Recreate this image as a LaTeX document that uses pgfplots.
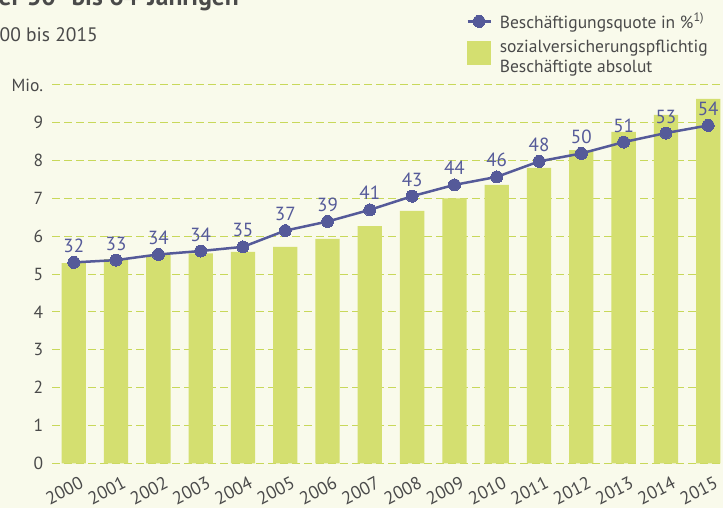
\documentclass[border=0pt]{standalone}
\usepackage{pgfplots}
\pgfplotsset{compat=1.18}
\usepackage{pgfplotstable}
\usepackage{fontspec}
\setmainfont{PT Sans}
\definecolor{bgcol}{HTML}{F9FAEB}
\definecolor{barcol}{HTML}{D4DF70}
\definecolor{linecol}{HTML}{555A99}
\definecolor{textcol}{HTML}{4A4A4A}
\definecolor{gridcol}{HTML}{C8D85A}
\pgfplotsset{
 mylegline/.style={legend image code/.code={\draw[mark repeat=2,mark phase=2,##1] plot coordinates {(0pt,0pt) (11.5pt,0pt) (23pt,0pt)};}},
 mylegbox/.style={legend image code/.code={\fill[barcol] (0pt,-8pt) rectangle (23pt,15pt);}},
}

\pgfplotstableread{
x val
0 5.29
1 5.40
2 5.51
3 5.55
4 5.59
5 5.72
6 5.93
7 6.27
8 6.67
9 7.00
10 7.36
11 7.81
12 8.28
13 8.76
14 9.21
15 9.63
}\barsdata

\pgfplotstableread{
x pct lab
0 31.99 32
1 32.36 33
2 33.27 34
3 33.82 34
4 34.49 35
5 37.10 37
6 38.56 39
7 40.44 41
8 42.63 43
9 44.45 44
10 45.73 46
11 48.22 48
12 49.50 50
13 51.32 51
14 52.78 53
15 54.00 54
}\quotedata

\begin{document}
\begin{tikzpicture}
\useasboundingbox (0pt,0pt) rectangle (723pt,508pt);
\fill[bgcol] (0pt,0pt) rectangle (723pt,508pt);
\begin{scope}
\clip (0pt,0pt) rectangle (723pt,508pt);
\node[anchor=base east, inner sep=0pt, text=textcol, font=\fontsize{25.5}{30}\selectfont\bfseries] at (239pt,502pt) {der 50- bis 64-Jährigen};
\node[anchor=base east, inner sep=0pt, text=textcol, font=\fontsize{19.5}{23}\selectfont] at (98pt,466.3pt) {2000 bis 2015};
\end{scope}
\begin{axis}[
 at={(52.3pt,44.7pt)}, anchor=south west,
 scale only axis, width=670.7pt, height=378.3pt,
 xmin=-0.508, xmax=15.35, ymin=0, ymax=10,
 axis line style={draw=none}, tick style={draw=none},
 ymajorgrids, grid style={gridcol, line width=1pt, dash pattern=on 7.5pt off 4.5pt},
 xtick={0,1,2,3,4,5,6,7,8,9,10,11,12,13,14,15},
 xticklabels={2000,2001,2002,2003,2004,2005,2006,2007,2008,2009,2010,2011,2012,2013,2014,2015},
 ytick={0,1,2,3,4,5,6,7,8,9,10},
 yticklabels={0,1,2,3,4,5,6,7,8,9,Mio.},
 ticklabel style={text=textcol},
 yticklabel style={anchor=east, inner sep=0pt, xshift=-9pt, font=\fontsize{17.5}{20}\selectfont},
 xticklabel style={rotate=27, anchor=north east, inner sep=0pt, xshift=1pt, yshift=-9.5pt, font=\fontsize{18}{20}\selectfont},
 ybar, bar width=24.3pt,
 clip=false,
]
\addplot[fill=barcol, draw=none] table[x=x,y=val] {\barsdata};
\end{axis}
\begin{axis}[
 at={(52.3pt,44.7pt)}, anchor=south west,
 scale only axis, width=670.7pt, height=378.3pt,
 xmin=-0.508, xmax=15.35, ymin=-0.29, ymax=60.5,
 hide axis, clip=false,
 legend style={at={(0.617,1.1957)}, anchor=north west, draw=none, fill=none,
   font=\fontsize{17.5}{20}\selectfont, text=textcol, cells={align=left},
   inner sep=0pt, row sep=6pt, column sep=6pt},
 legend cell align=left,
]
\addplot[linecol, line width=2.5pt, mark=*, mark size=6pt,
 mark options={solid, fill=linecol, draw=linecol, line width=0pt},
 point meta=explicit symbolic, nodes near coords,
 nodes near coords style={anchor=base, yshift=10pt, inner sep=0pt, text=linecol, font=\fontsize{19}{22}\selectfont},
 mylegline
] table[x=x, y=pct, meta=lab] {\quotedata};
\addlegendentry{Beschäftigungsquote in \%\textsuperscript{1)}}
\addlegendimage{mylegbox}
\addlegendentry{sozialversicherungspflichtig\\Beschäftigte absolut}
\end{axis}
\end{tikzpicture}
\end{document}
